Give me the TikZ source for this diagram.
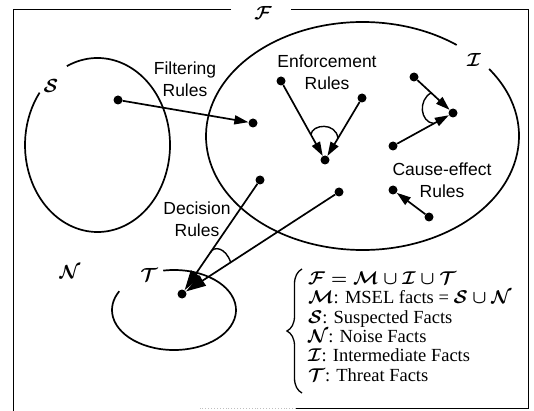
\documentclass[tikz,border=0pt]{standalone}
\usepackage{fix-cm}
\usepackage{fontspec}
\setmainfont{Liberation Serif}
\newfontfamily\labelfont{Liberation Sans}
\usetikzlibrary{arrows.meta,decorations.pathreplacing,calc}
\begin{document}
\begin{tikzpicture}[x=1pt,y=-1pt,
  ln/.style={line width=1.7pt},
  dot/.style={circle,fill=black,inner sep=0pt,minimum size=9pt},
  arr/.style={ln,-{Triangle[length=14pt,width=9pt]}},
  bigarr/.style={ln,-{Triangle[length=20pt,width=12pt]}},
  andarc/.style={line width=1.4pt},
  rulelab/.style={font=\labelfont\fontsize{17.5}{22}\selectfont,align=center,inner sep=0pt},
  setlab/.style={font=\fontsize{19}{19}\selectfont\boldmath,inner sep=0pt},
  legend/.style={anchor=base west,font=\fontsize{18.5}{19.5}\selectfont\boldmath,inner sep=0pt},
  frameline/.style={line width=0.9pt}
]
\useasboundingbox (0,0) rectangle (534,411);

% frame
\draw[frameline] (231,9) -- (13,9) -- (13,411);
\draw[frameline] (291,9) -- (528,9) -- (528,408) -- (296,408);
\draw[frameline,gray!50,dotted] (296,408) -- (200,408);

% sets
\draw[ln] (97.5,145) ++(245:72.5 and 87) arc[start angle=245,end angle=577,x radius=72.5,y radius=87];
\draw[ln] (362.5,136) ++(324:156.5 and 114) arc[start angle=324,end angle=667,x radius=156.5,y radius=114];
\draw[ln] (174,310) ++(260:62 and 40) arc[start angle=260,end angle=568,x radius=62,y radius=40];

% set labels
\node[setlab] (lF) at (263,13) {$\mathcal{F}$};
\node[setlab] (lS) at (51,86) {$\mathcal{S}$};
\node[setlab] (lI) at (474,60) {$\mathcal{I}$};
\node[setlab] (lT) at (149,275) {$\mathcal{T}$};
\node[setlab] (lN) at (70,272) {$\mathcal{N}$};

% rule labels
\node[rulelab] (tFilt) at (185,79.5) {Filtering\\Rules};
\node[rulelab] (tEnf) at (327,72.5) {Enforcement\\Rules};
\node[rulelab] (tCause) at (442,180) {Cause-effect\\Rules};
\node[rulelab] (tDec) at (197,219.5) {Decision\\Rules};

% facts
\node[dot] (s1) at (118,100) {};
\node[dot] (i1) at (253,123) {};
\node[dot] (eA) at (281,81) {};
\node[dot] (eB) at (362,98) {};
\node[dot] (eT) at (325,160) {};
\node[dot] (cC) at (414,77) {};
\node[dot] (cD) at (453,113) {};
\node[dot] (cE) at (393,146) {};
\node[dot] (cF) at (393,190) {};
\node[dot] (cG) at (429,217) {};
\node[dot] (dH) at (260,180) {};
\node[dot] (dJ) at (339,192) {};
\node[dot] (tD) at (182,294) {};

% rules
\draw[arr] (s1) -- (i1);
\draw[arr] (eA) -- (eT);
\draw[arr] (eB) -- (eT);
\draw[arr] (cC) -- (cD);
\draw[arr] (cE) -- (cD);
\draw[arr] (cG) -- (cF);
\draw[bigarr] (dH) -- (tD);
\draw[bigarr] (dJ) -- (tD);

% conjunction arcs
\draw[andarc] ($(eA)!0.68!(eT)$) .. controls (312,124) and (336,122) .. ($(eB)!0.65!(eT)$);
\draw[andarc] ($(cC)!0.44!(cD)$) .. controls (418,100) and (420,122) .. ($(cE)!0.68!(cD)$);
\draw[andarc] ($(dH)!0.64!(tD)$) .. controls (214,245) and (226,248) .. ($(dJ)!0.69!(tD)$);

% legend
\draw[line width=1.3pt,decorate,decoration={brace,amplitude=15pt}] (302,393) -- (302,269);
\node[legend] (l1) at (308,284) {$\mathcal{F}=\mathcal{M}\cup\mathcal{I}\cup\mathcal{T}$};
\node[legend] (l2) at (308,303) {$\mathcal{M}$: MSEL facts = $\mathcal{S}\cup\mathcal{N}$};
\node[legend] (l3) at (308,323) {$\mathcal{S}$: Suspected Facts};
\node[legend] (l4) at (308,342) {$\mathcal{N}$: Noise Facts};
\node[legend] (l5) at (308,361) {$\mathcal{I}$: Intermediate Facts};
\node[legend] (l6) at (308,381) {$\mathcal{T}$: Threat Facts};
\end{tikzpicture}
\end{document}
